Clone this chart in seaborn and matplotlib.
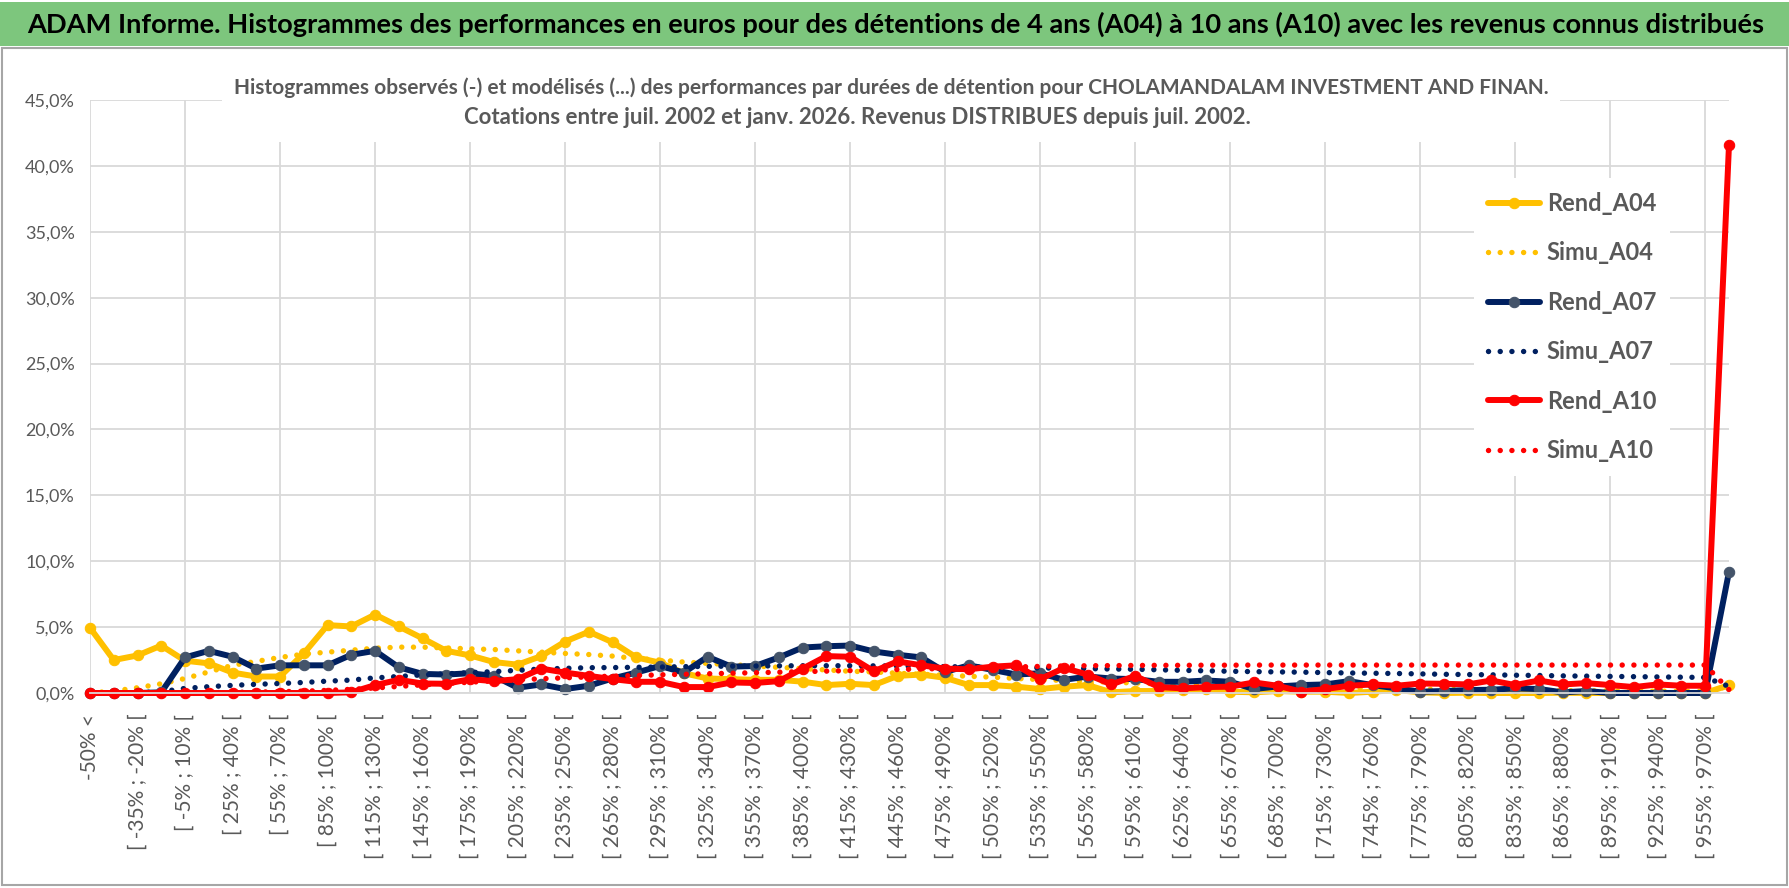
"""
Recreation of the ADAM histogram chart (observed vs simulated returns
for 4, 7 and 10 year holding periods).
"""

import matplotlib.pyplot as plt
import pandas as pd
import seaborn as sns
from matplotlib.patches import Rectangle
from matplotlib.ticker import FuncFormatter

# categories: "-50% <", then 15% wide bins from -50% up to 970%, then the open top bin
bin_starts = list(range(-50, 970, 15))
categories = ["-50% <"] + [f"[ {lo}% ; {lo + 15}% [" for lo in bin_starts] + ["970% <="]

series_names = ["Rend_A04", "Simu_A04", "Rend_A07", "Simu_A07", "Rend_A10", "Simu_A10"]

# values in %
rend_a04 = [4.95, 2.50, 2.85, 3.60, 2.45, 2.25, 1.55, 1.25, 1.25, 3.00,
            5.15, 5.05, 5.95, 5.05, 4.15, 3.20, 2.85, 2.35, 2.15, 2.80,
            3.90, 4.65, 3.85, 2.70, 2.30, 1.50, 1.10, 1.05, 1.00, 1.00,
            0.86, 0.60, 0.70, 0.60, 1.30, 1.40, 1.15, 0.60, 0.60, 0.48,
            0.30, 0.48, 0.60, 0.05, 0.15, 0.15, 0.20, 0.30, 0.10, 0.05,
            0.15, 0.10, 0.10, 0.00, 0.10, 0.23, 0.05, 0.00, 0.02, 0.00,
            0.00, 0.00, 0.02, 0.00, 0.00, 0.02, 0.00, 0.00, 0.00, 0.60]

simu_a04 = [0.00, 0.15, 0.40, 0.70, 1.10, 1.60, 2.10, 2.40, 2.70, 2.95,
            3.10, 3.25, 3.40, 3.48, 3.48, 3.42, 3.35, 3.30, 3.20, 3.10,
            3.00, 2.92, 2.80, 2.62, 2.50, 2.35, 2.25, 2.15, 2.05, 1.95,
            1.85, 1.75, 1.65, 1.60, 1.50, 1.42, 1.35, 1.27, 1.20, 1.10,
            1.02, 0.95, 0.88, 0.82, 0.76, 0.70, 0.65, 0.60, 0.55, 0.50,
            0.47, 0.43, 0.40, 0.37, 0.34, 0.31, 0.29, 0.27, 0.25, 0.23,
            0.21, 0.20, 0.18, 0.17, 0.16, 0.15, 0.14, 0.13, 0.12, 0.50]

rend_a07 = [0.00, 0.00, 0.00, 0.05, 2.70, 3.20, 2.75, 1.85, 2.10, 2.10,
            2.10, 2.90, 3.20, 1.95, 1.45, 1.40, 1.50, 1.30, 0.40, 0.65,
            0.30, 0.55, 1.10, 1.55, 2.05, 1.55, 2.75, 2.00, 2.05, 2.70,
            3.45, 3.55, 3.60, 3.15, 2.90, 2.70, 1.60, 2.10, 1.75, 1.40,
            1.50, 1.00, 1.25, 1.10, 1.05, 0.85, 0.85, 0.95, 0.85, 0.30,
            0.50, 0.60, 0.65, 0.90, 0.60, 0.35, 0.10, 0.15, 0.22, 0.25,
            0.35, 0.30, 0.05, 0.15, 0.00, 0.00, 0.00, 0.00, 0.00, 9.20]

simu_a07 = [0.00, 0.00, 0.02, 0.10, 0.35, 0.48, 0.58, 0.66, 0.72, 0.80,
            0.90, 0.98, 1.15, 1.25, 1.38, 1.45, 1.55, 1.62, 1.72, 1.82,
            1.87, 1.92, 1.93, 1.95, 1.97, 2.00, 2.02, 2.04, 2.05, 2.06,
            2.07, 2.07, 2.07, 2.06, 2.05, 2.03, 2.00, 1.98, 1.95, 1.93,
            1.90, 1.88, 1.85, 1.82, 1.80, 1.76, 1.72, 1.68, 1.65, 1.62,
            1.60, 1.58, 1.55, 1.52, 1.50, 1.48, 1.45, 1.42, 1.40, 1.38,
            1.35, 1.33, 1.30, 1.28, 1.26, 1.24, 1.22, 1.20, 1.18, 0.50]

rend_a10 = [0.00, 0.00, 0.00, 0.00, 0.00, 0.00, 0.00, 0.00, 0.00, 0.00,
            0.00, 0.05, 0.60, 1.00, 0.72, 0.70, 1.05, 0.90, 1.05, 1.85,
            1.55, 1.30, 1.05, 0.85, 0.85, 0.45, 0.45, 0.80, 0.76, 0.90,
            1.85, 2.80, 2.75, 1.65, 2.40, 2.10, 1.85, 1.80, 2.00, 2.10,
            1.05, 1.90, 1.40, 0.65, 1.30, 0.45, 0.35, 0.45, 0.48, 0.80,
            0.55, 0.10, 0.30, 0.55, 0.65, 0.55, 0.72, 0.70, 0.65, 0.95,
            0.60, 0.95, 0.65, 0.75, 0.60, 0.45, 0.65, 0.55, 0.55, 41.60]

simu_a10 = [0.00, 0.00, 0.00, 0.00, 0.02, 0.03, 0.05, 0.07, 0.10, 0.14,
            0.20, 0.28, 0.38, 0.50, 0.62, 0.72, 0.82, 0.92, 1.00, 1.08,
            1.15, 1.22, 1.28, 1.33, 1.38, 1.42, 1.46, 1.50, 1.54, 1.58,
            1.62, 1.66, 1.70, 1.74, 1.78, 1.82, 1.86, 1.90, 1.94, 1.98,
            2.02, 2.05, 2.07, 2.08, 2.09, 2.10, 2.10, 2.11, 2.11, 2.12,
            2.12, 2.12, 2.12, 2.12, 2.12, 2.12, 2.12, 2.12, 2.12, 2.12,
            2.12, 2.12, 2.12, 2.12, 2.12, 2.12, 2.12, 2.12, 2.12, 0.25]

title = ("ADAM Informe. Histogrammes des performances en euros pour des détentions "
         "de 4 ans (A04) à 10 ans (A10) avec les revenus connus distribués")
subtitle_1 = ("Histogrammes observés (-) et modélisés (...) des performances par durées "
              "de détention pour CHOLAMANDALAM INVESTMENT AND FINAN.")
subtitle_2 = "Cotations entre juil. 2002 et janv. 2026. Revenus DISTRIBUES depuis juil. 2002."

GOLD = "#FFC000"
NAVY = "#002060"
SLATE = "#44546A"
RED = "#FF0000"
GREY_TXT = "#595959"
GRID = "#D9D9D9"

W, H = 1790, 888


def fx(px):
    return px / W


def fy(py):
    return 1 - py / H


def main() -> None:
    sns.set_style("white")
    plt.rcParams["font.family"] = ["Lato", "DejaVu Sans"]

    fig = plt.figure(figsize=(W / 100, H / 100), dpi=100)
    ax = fig.add_axes([fx(90), fy(693), fx(1729 - 90), (693 - 100) / H])

    solid = dict(linestyle="-", linewidth=4.3, marker="o", markersize=7.5)
    dotted = dict(linestyle=(0, (0.01, 2.15)), linewidth=3.9, dash_capstyle="round")
    styles = [
        dict(solid, color=GOLD, markerfacecolor=GOLD, markeredgecolor=GOLD),
        dict(dotted, color=GOLD),
        dict(solid, color=NAVY, markerfacecolor=SLATE, markeredgecolor=SLATE),
        dict(dotted, color=NAVY),
        dict(solid, color=RED, markerfacecolor=RED, markeredgecolor=RED),
        dict(dotted, color=RED),
    ]
    values = [rend_a04, simu_a04, rend_a07, simu_a07, rend_a10, simu_a10]

    for name, vals, st in zip(series_names, values, styles):
        df = pd.DataFrame({"pos": range(len(categories)), "val": vals})
        sns.lineplot(data=df, x="pos", y="val", ax=ax, errorbar=None,
                     legend=False, clip_on=False, label=name, **st)

    ax.set_xlim(0, len(categories) - 1)
    ax.set_ylim(0, 45)
    ax.set_yticks(range(0, 46, 5))
    ax.yaxis.set_major_formatter(
        FuncFormatter(lambda v, _: f"{v:.1f}%".replace(".", ",")))

    # labels every 2 bins, vertical grid every 4 bins
    major = list(range(0, len(categories), 4))
    minor = list(range(2, len(categories), 4))
    ax.set_xticks(major, [categories[i] for i in major])
    ax.set_xticks(minor, [categories[i] for i in minor], minor=True)
    for lab in ax.get_xticklabels(which="both"):
        lab.set_rotation(90)
    ax.tick_params(axis="x", which="both", length=0, pad=15,
                   labelsize=15, labelcolor=GREY_TXT)
    ax.tick_params(axis="y", length=0, pad=11, labelsize=13, labelcolor=GREY_TXT)
    ax.set_xlabel("")
    ax.set_ylabel("")

    ax.grid(axis="y", color=GRID, linewidth=1.3)
    ax.grid(axis="x", which="major", color=GRID, linewidth=1.3)
    ax.set_axisbelow(True)
    for side in ["top", "right", "left"]:
        ax.spines[side].set_visible(False)
    ax.spines["bottom"].set_color(GRID)
    ax.spines["bottom"].set_linewidth(1.3)

    ax.legend(handles=ax.lines[:6], labels=series_names, loc="center",
              bbox_to_anchor=(fx(1572), fy(327)), bbox_transform=fig.transFigure,
              frameon=True, facecolor="white", edgecolor="none", framealpha=1,
              prop={"weight": "bold", "size": 17}, labelcolor=GREY_TXT,
              handlelength=2.2, handletextpad=0.3, labelspacing=1.12,
              borderpad=0.6)

    # banner
    fig.patches.append(Rectangle((0, fy(46)), 1, 44 / H, transform=fig.transFigure,
                                 facecolor="#7DC67D", edgecolor="none", zorder=1))
    fig.text(fx(27), fy(24), title, fontsize=19.6, fontweight="bold",
             color="black", ha="left", va="center", zorder=3)

    # chart frame
    fig.patches.append(Rectangle((fx(2), fy(885)), fx(1785), (885 - 48) / H,
                                 transform=fig.transFigure, facecolor="none",
                                 edgecolor="#A6A6A6", linewidth=1.5, zorder=1))

    # chart title over the plot area
    fig.patches.append(Rectangle((fx(222), fy(142)), fx(1560 - 222), 74 / H,
                                 transform=fig.transFigure, facecolor="white",
                                 edgecolor="none", zorder=2))
    fig.text(fx(891), fy(88), subtitle_1, fontsize=15, fontweight="bold",
             color=GREY_TXT, ha="center", va="center", zorder=3)
    fig.text(fx(857), fy(118), subtitle_2, fontsize=16, fontweight="bold",
             color=GREY_TXT, ha="center", va="center", zorder=3)

    fig.savefig("out.png", dpi=100)
    plt.close(fig)


if __name__ == "__main__":
    main()
